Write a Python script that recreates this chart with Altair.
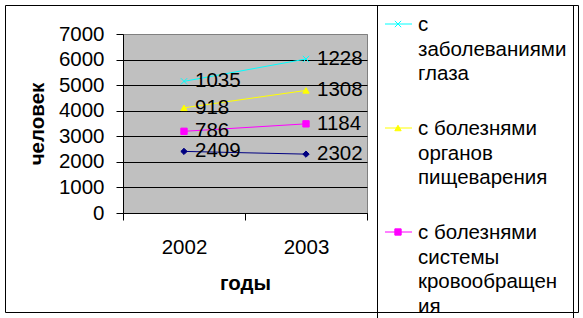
import altair as alt
import pandas as pd

# ---- data ----
years = ["2002", "2003"]
series = [
    "ряд 1",
    "с болезнями системы кровообращения",
    "с болезнями органов пищеварения",
    "с заболеваниями глаза",
]
values_2002 = [2409, 786, 918, 1035]
values_2003 = [2302, 1184, 1308, 1228]
colors = ["#000080", "#FF00FF", "#FFFF00", "#00FFFF"]
shapes = ["diamond", "square", "triangle-up", "M-1,-1L1,1M-1,1L1,-1"]

legend_series = [series[3], series[2], series[1]]
legend_lines = [
    ["с", "заболеваниями", "глаза"],
    ["с болезнями", "органов", "пищеварения"],
    ["с болезнями", "системы", "кровообращен", "ия"],
]

FONT = "Liberation Sans"
FS = 20.5
OX, OY = 123, 34          # plot origin in page pixels
W, H = 244, 179

rows = []
for i, s in enumerate(series):
    rows.append({"year": years[0], "series": s, "idx": i, "value": values_2002[i]})
    rows.append({"year": years[1], "series": s, "idx": i, "value": values_2003[i]})
df = pd.DataFrame(rows)

lrows = []
for ei, (s, lines) in enumerate(zip(legend_series, legend_lines)):
    for li, t in enumerate(lines):
        lrows.append({"series": s, "entry": ei, "line": li, "text": t})
ldf = pd.DataFrame(lrows)
lsym = pd.DataFrame({"series": legend_series, "entry": list(range(len(legend_series)))})

color_scale = alt.Scale(domain=series, range=colors)
shape_scale = alt.Scale(domain=series, range=shapes)

base = alt.Chart(df).transform_window(
    cum="sum(value)", groupby=["year"], sort=[alt.SortField("idx")], frame=[None, 0]
)

x_enc = alt.X(
    "year:N",
    sort=years,
    scale=alt.Scale(type="band", paddingInner=0, paddingOuter=0),
    axis=alt.Axis(
        title="годы",
        tickBand="extent",
        tickSize=7,
        tickColor="black",
        domainColor="black",
        labelFont=FONT,
        labelFontSize=FS,
        labelColor="black",
        labelAngle=0,
        labelBaseline="alphabetic",
        labelPadding=33,
        titleFont=FONT,
        titleFontSize=FS,
        titleFontWeight="bold",
        titleColor="black",
        titleX=W / 2,
        titleY=289 - (OY + H),
        titleAlign="center",
        titleBaseline="alphabetic",
        grid=False,
    ),
)
y_enc = alt.Y(
    "cum:Q",
    scale=alt.Scale(domain=[0, 7000], nice=False),
    axis=alt.Axis(
        title="человек",
        values=list(range(0, 7001, 1000)),
        format="d",
        tickSize=7,
        tickColor="black",
        domainColor="black",
        grid=True,
        gridColor=alt.condition(alt.datum.value == 7000, alt.value("#808080"), alt.value("black")),
        gridWidth=1,
        labelFont=FONT,
        labelFontSize=FS,
        labelColor="black",
        labelPadding=12,
        titleFont=FONT,
        titleFontSize=FS,
        titleFontWeight="bold",
        titleColor="black",
        titleAngle=270,
        titleX=43 - OX,
        titleY=H / 2,
        titleAlign="center",
        titleBaseline="alphabetic",
    ),
)

lines_layer = base.mark_line(strokeWidth=1).encode(
    x=x_enc, y=y_enc, color=alt.Color("series:N", scale=color_scale, legend=None),
    detail="series:N",
)
points_layer = base.mark_point(filled=True, opacity=1, strokeWidth=1, size=40).encode(
    x=x_enc,
    y=y_enc,
    shape=alt.Shape("series:N", scale=shape_scale, legend=None),
    fill=alt.Fill("series:N", scale=color_scale, legend=None),
    stroke=alt.Stroke("series:N", scale=color_scale, legend=None),
)
labels_layer = base.mark_text(
    align="left", baseline="middle", dx=11, fontSize=FS, font=FONT, color="black"
).encode(x=x_enc, y=y_enc, text=alt.Text("value:Q", format="d"))

# ---- legend (drawn by hand to get wrapped labels) ----
leg_text = alt.Chart(ldf).transform_calculate(
    py=f"{25 - OY} + datum.entry * 104 + datum.line * 24.5"
).mark_text(align="left", baseline="middle", fontSize=FS, font=FONT, color="black").encode(
    x=alt.value(418 - OX), y=alt.Y("py:Q", scale=None, axis=None), text="text:N"
)
leg_rule = alt.Chart(lsym).transform_calculate(
    py=f"{24 - OY} + datum.entry * 104"
).mark_rule(strokeWidth=1).encode(
    x=alt.value(385 - OX), x2=alt.value(412 - OX),
    y=alt.Y("py:Q", scale=None, axis=None),
    color=alt.Color("series:N", scale=color_scale, legend=None),
)
leg_pt = alt.Chart(lsym).transform_calculate(
    py=f"{24 - OY} + datum.entry * 104"
).mark_point(filled=True, opacity=1, strokeWidth=1, size=40).encode(
    x=alt.value(398 - OX),
    y=alt.Y("py:Q", scale=None, axis=None),
    shape=alt.Shape("series:N", scale=shape_scale, legend=None),
    fill=alt.Fill("series:N", scale=color_scale, legend=None),
    stroke=alt.Stroke("series:N", scale=color_scale, legend=None),
)

one = alt.InlineData(values=[{"a": 1}])
clip_rect = alt.Chart(one).mark_rect(color="white").encode(
    x=alt.value(378 - OX), x2=alt.value(573 - OX),
    y=alt.value(313 - OY), y2=alt.value(340 - OY),
)
outer_rect = alt.Chart(one).mark_rect(fillOpacity=0, stroke="black", strokeWidth=1).encode(
    x=alt.value(5.5 - OX), x2=alt.value(578.5 - OX),
    y=alt.value(5.5 - OY), y2=alt.value(312.5 - OY),
)
legend_rect = alt.Chart(one).mark_rect(fillOpacity=0, stroke="black", strokeWidth=1).encode(
    x=alt.value(377.5 - OX), x2=alt.value(573.5 - OX),
    y=alt.value(5.5 - OY), y2=alt.value(340 - OY),
)

chart = alt.layer(
    lines_layer, points_layer, labels_layer,
    leg_text, leg_rule, leg_pt,
    clip_rect, outer_rect, legend_rect,
).properties(
    width=W,
    height=H,
    autosize=alt.AutoSizeParams(type="none"),
    padding={"left": OX, "top": OY, "right": 583 - OX - W, "bottom": 318 - OY - H},
    background="white",
).configure_view(stroke="#808080", fill="#C0C0C0")

chart.save("out.html", embed_options={"renderer": "svg", "actions": False})
